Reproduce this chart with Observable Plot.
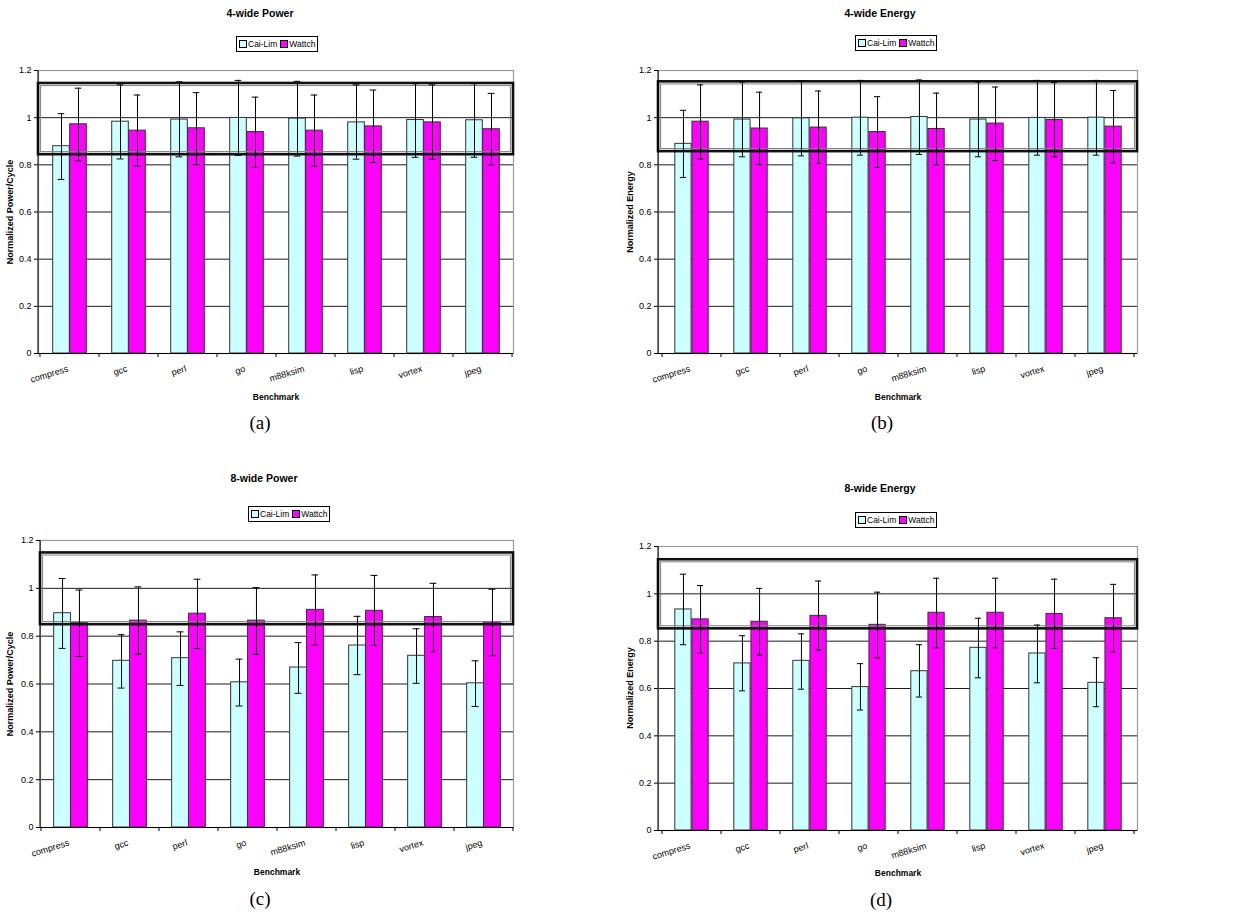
<!DOCTYPE html>
<html><head><meta charset="utf-8">
<script src="https://cdn.jsdelivr.net/npm/d3@7"></script>
<script src="https://cdn.jsdelivr.net/npm/@observablehq/plot@0.6"></script>
<style>
body{margin:0;background:#fff;}
#root{position:relative;width:1236px;height:915px;font-family:"Liberation Sans",Arial,sans-serif;color:#000;overflow:hidden;}
.abs{position:absolute;white-space:nowrap;line-height:1;}
.title{font-weight:bold;font-size:10.5px;transform:translate(-50%,-50%);}
.axt{font-weight:bold;font-size:8.5px;transform:translate(-50%,-50%);}
.ylab{font-weight:bold;font-size:9px;transform:translate(-50%,-50%) rotate(-90deg);}
.cap{font-family:"Liberation Serif","Times New Roman",serif;font-size:19px;transform:translate(-50%,-50%);}
.legend{border:1px solid #000;height:16px;display:flex;align-items:center;font-size:8.5px;padding:0 2px;box-sizing:border-box;background:#fff;}
.sw{display:inline-block;width:6px;height:6px;border:1px solid #000;margin-right:1px;}
svg.pp{position:absolute;}
</style></head><body><div id="root"></div>
<script>
// ---- data ----
const benchmarks = ["compress","gcc","perl","go","m88ksim","lisp","vortex","jpeg"];
const seriesNames = ["Cai-Lim","Wattch"];
const seriesColors = ["#ccffff","#ff00ff"];
const yTicks = [0,0.2,0.4,0.6,0.8,1,1.2];

// (a) 4-wide Power
const caiPow4   = [0.879,0.983,0.992,0.999,0.996,0.980,0.990,0.989];
const caiPow4Lo = [0.738,0.825,0.834,0.840,0.837,0.824,0.832,0.832];
const caiPow4Hi = [1.017,1.139,1.152,1.158,1.154,1.139,1.144,1.144];
const watPow4   = [0.972,0.945,0.955,0.939,0.945,0.963,0.980,0.951];
const watPow4Lo = [0.817,0.794,0.801,0.789,0.794,0.810,0.824,0.800];
const watPow4Hi = [1.125,1.096,1.106,1.087,1.096,1.117,1.139,1.103];
const boxPow4 = [0.843,1.145];

// (b) 4-wide Energy
const caiEn4   = [0.889,0.992,0.997,1.000,1.003,0.992,0.999,1.000];
const caiEn4Lo = [0.746,0.834,0.838,0.841,0.844,0.834,0.841,0.841];
const caiEn4Hi = [1.031,1.151,1.156,1.158,1.160,1.151,1.158,1.158];
const watEn4   = [0.983,0.954,0.958,0.939,0.952,0.975,0.990,0.962];
const watEn4Lo = [0.825,0.801,0.806,0.789,0.800,0.818,0.834,0.808];
const watEn4Hi = [1.139,1.108,1.113,1.089,1.104,1.130,1.149,1.115];
const boxEn4 = [0.856,1.152];

// (c) 8-wide Power
const caiPow8   = [0.896,0.697,0.708,0.607,0.669,0.761,0.718,0.603];
const caiPow8Lo = [0.749,0.583,0.594,0.508,0.561,0.639,0.603,0.506];
const caiPow8Hi = [1.041,0.806,0.818,0.704,0.773,0.883,0.831,0.697];
const watPow8   = [0.854,0.865,0.894,0.865,0.910,0.906,0.880,0.858];
const watPow8Lo = [0.715,0.724,0.748,0.724,0.762,0.761,0.735,0.718];
const watPow8Hi = [0.993,1.006,1.038,1.003,1.056,1.054,1.021,0.996];
const boxPow8 = [0.848,1.148];

// (d) 8-wide Energy
const caiEn8   = [0.934,0.706,0.717,0.606,0.673,0.772,0.748,0.624];
const caiEn8Lo = [0.785,0.590,0.597,0.509,0.564,0.645,0.624,0.523];
const caiEn8Hi = [1.083,0.823,0.831,0.705,0.785,0.897,0.868,0.730];
const watEn8   = [0.892,0.882,0.907,0.869,0.920,0.920,0.915,0.897];
const watEn8Lo = [0.749,0.741,0.762,0.730,0.772,0.772,0.769,0.754];
const watEn8Hi = [1.035,1.023,1.054,1.007,1.066,1.066,1.062,1.040];
const boxEn8 = [0.852,1.144];

// ---- layout ----
const panels = [
  {title:"4-wide Power", ylabel:"Normalized Power/Cycle", cap:"(a)",
   cai:caiPow4, caiLo:caiPow4Lo, caiHi:caiPow4Hi, wat:watPow4, watLo:watPow4Lo, watHi:watPow4Hi, box:boxPow4,
   left:0, L:38, R:513, T:70, B:353, titleX:260, titleY:13, legX:236, legY:36, benchX:276, benchY:397, capX:260, capY:422, ylabX:10},
  {title:"4-wide Energy", ylabel:"Normalized Energy", cap:"(b)",
   cai:caiEn4, caiLo:caiEn4Lo, caiHi:caiEn4Hi, wat:watEn4, watLo:watEn4Lo, watHi:watEn4Hi, box:boxEn4,
   left:620, L:658, R:1137, T:70, B:353, titleX:880, titleY:13, legX:855, legY:35, benchX:898, benchY:397, capX:882, capY:422, ylabX:630},
  {title:"8-wide Power", ylabel:"Normalized Power/Cycle", cap:"(c)",
   cai:caiPow8, caiLo:caiPow8Lo, caiHi:caiPow8Hi, wat:watPow8, watLo:watPow8Lo, watHi:watPow8Hi, box:boxPow8,
   left:0, L:40, R:513, T:540, B:827, titleX:264, titleY:478, legX:248, legY:506, benchX:277, benchY:872, capX:260, capY:898, ylabX:10},
  {title:"8-wide Energy", ylabel:"Normalized Energy", cap:"(d)",
   cai:caiEn8, caiLo:caiEn8Lo, caiHi:caiEn8Hi, wat:watEn8, watLo:watEn8Lo, watHi:watEn8Hi, box:boxEn8,
   left:620, L:658, R:1137, T:546, B:830, titleX:880, titleY:488, legX:855, legY:512, benchX:898, benchY:873, capX:881, capY:899, ylabX:630}
];

const root = document.getElementById("root");
function addDiv(cls, text, x, y){
  const d = document.createElement("div");
  d.className = "abs " + cls; d.textContent = text;
  d.style.left = x + "px"; d.style.top = y + "px";
  root.appendChild(d); return d;
}

for (const p of panels) {
  const cRows = benchmarks.map((b,i)=>({bench:b, series:seriesNames[0], value:p.cai[i], lo:p.caiLo[i], hi:p.caiHi[i]}));
  const wRows = benchmarks.map((b,i)=>({bench:b, series:seriesNames[1], value:p.wat[i], lo:p.watLo[i], hi:p.watHi[i]}));
  const mt = 8, mb = 40, mr = 3;
  const top = p.T - mt;
  const width = p.R + mr - p.left;
  const height = p.B + mb - top;
  const ml = p.L - p.left;
  const bw = (p.R - p.L) / benchmarks.length;
  const half = bw / 2;
  const barW = bw * 0.286;
  const capHalf = 3.5;
  const errMarks = (rows, center) => [
    Plot.ruleX(rows, {x:"bench", y1:"lo", y2:"hi", dx:center, stroke:"#000", strokeWidth:1}),
    Plot.tickY(rows, {x:"bench", y:"hi", stroke:"#000", strokeWidth:1, insetLeft: half + center - capHalf, insetRight: half - center - capHalf}),
    Plot.tickY(rows, {x:"bench", y:"lo", stroke:"#000", strokeWidth:1, insetLeft: half + center - capHalf, insetRight: half - center - capHalf})
  ];
  const plot = Plot.plot({
    width, height,
    marginLeft: ml, marginRight: mr, marginTop: mt, marginBottom: mb,
    style: {fontFamily: "'Liberation Sans', Arial, sans-serif", fontSize: "9px", background: "transparent", overflow: "visible"},
    x: {domain: benchmarks, padding: 0, label: null},
    y: {domain: [0, 1.2], label: null},
    marks: [
      Plot.ruleY(yTicks.filter(t => t > 0 && t < 1.2), {stroke:"#000", strokeWidth:0.9}),
      Plot.frame({stroke:"#9a9a9a", strokeWidth:1.2}),
      Plot.barY(cRows, {x:"bench", y:"value", fill: seriesColors[0], stroke:"#333", strokeWidth:1, insetLeft: half - barW, insetRight: half}),
      Plot.barY(wRows, {x:"bench", y:"value", fill: seriesColors[1], stroke:"#333", strokeWidth:1, insetLeft: half, insetRight: half - barW}),
      Plot.rect([p.box], {y1: d => d[0], y2: d => d[1], fill: "none", stroke: "#111", strokeWidth: 2.6}),
      Plot.rect([p.box], {y1: d => d[0], y2: d => d[1], fill: "none", stroke: "#808080", strokeWidth: 1, inset: 2.6}),
      ...errMarks(cRows, -barW/2),
      ...errMarks(wRows, barW/2),
      Plot.ruleY([0], {stroke:"#000", strokeWidth:1.2}),
      Plot.axisY({ticks: yTicks, tickSize: 4, tickPadding: 3, tickFormat: d => String(d), fontSize: 9}),
      Plot.axisX({tickSize: 0, tickRotate: -17, tickPadding: 15, dx: -2, fontSize: 9})
    ]
  });
  plot.classList.add("pp");
  plot.style.left = p.left + "px";
  plot.style.top = top + "px";
  root.appendChild(plot);

  // axis lines and category-boundary tick marks, placed with the plot's own x scale
  const xs = plot.scale("x");
  const g = d3.select(plot).append("g").attr("stroke", "#000").attr("stroke-width", 1);
  const y0 = mt + (p.B - p.T);
  g.append("line").attr("x1", ml).attr("x2", ml).attr("y1", mt).attr("y2", y0 + 0.5);
  const edges = benchmarks.map(b => xs.apply(b));
  edges.push(xs.apply(benchmarks[benchmarks.length - 1]) + xs.bandwidth);
  for (const e of edges) g.append("line").attr("x1", e).attr("x2", e).attr("y1", y0).attr("y2", y0 + 4);

  // texts
  addDiv("title", p.title, p.titleX, p.titleY);
  addDiv("axt", "Benchmark", p.benchX, p.benchY);
  addDiv("ylab", p.ylabel, p.ylabX, (p.T + p.B) / 2);
  addDiv("cap", p.cap, p.capX, p.capY);
  const leg = document.createElement("div");
  leg.className = "abs legend";
  leg.style.left = p.legX + "px"; leg.style.top = p.legY + "px";
  seriesNames.forEach((s, i) => {
    const sw = document.createElement("span"); sw.className = "sw"; sw.style.background = seriesColors[i];
    const t = document.createElement("span"); t.textContent = s; t.style.marginRight = i === 0 ? "3px" : "0";
    leg.appendChild(sw); leg.appendChild(t);
  });
  root.appendChild(leg);
}
</script></body></html>
